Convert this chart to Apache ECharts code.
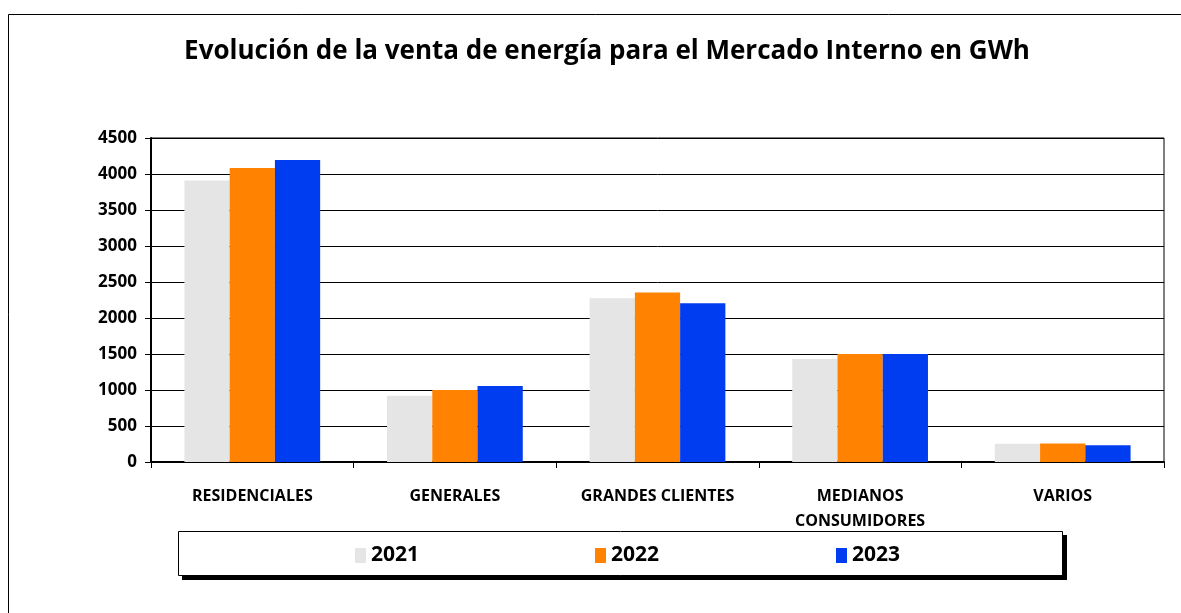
<!DOCTYPE html>
<html>
<head>
<meta charset="utf-8">
<script src="https://cdn.jsdelivr.net/npm/echarts@6/dist/echarts.min.js"></script>
<style>
  html, body { margin: 0; padding: 0; background: #fff; }
  #chart { width: 1181px; height: 613px; }
</style>
</head>
<body>
<div id="chart"></div>
<script>
// data
const categories = ['RESIDENCIALES', 'GENERALES', 'GRANDES CLIENTES', 'MEDIANOS\nCONSUMIDORES', 'VARIOS'];
const years = ['2021', '2022', '2023'];
const values2021 = [3910, 920, 2275, 1430, 255];
const values2022 = [4085, 1000, 2355, 1500, 258];
const values2023 = [4195, 1055, 2205, 1500, 232];
const yTicks = [0, 500, 1000, 1500, 2000, 2500, 3000, 3500, 4000, 4500];

const colors = ['#e5e5e5', '#ff8300', '#003cf0'];
const font = '"Open Sans", "Noto Sans", sans-serif';

const chart = echarts.init(document.getElementById('chart'));

const seriesData = [values2021, values2022, values2023];
// x position of each legend entry inside the legend box
const legendLeft = [350, 590, 831];

chart.setOption({
  animation: false,
  backgroundColor: '#fff',
  title: {
    text: 'Evolución de la venta de energía para el Mercado Interno en GWh',
    left: 602,
    textAlign: 'center',
    top: 34,
    textStyle: { fontFamily: font, fontWeight: 'bold', fontSize: 26, color: '#000' }
  },
  // outer frame and the legend box with its shadow
  graphic: [
    { type: 'rect', shape: { x: 8.5, y: 14.5, width: 1200, height: 700 }, style: { fill: 'none', stroke: '#000', lineWidth: 1 }, silent: true },
    { type: 'rect', shape: { x: 182, y: 535, width: 885, height: 45 }, style: { fill: '#000' }, silent: true },
    { type: 'rect', shape: { x: 178.5, y: 531.5, width: 884, height: 44 }, style: { fill: '#fff', stroke: '#000', lineWidth: 1 }, silent: true }
  ],
  legend: years.map((y, i) => ({
    data: [y],
    left: legendLeft[i],
    top: 540,
    itemWidth: 11,
    itemHeight: 15,
    itemGap: 6,
    icon: 'rect',
    textStyle: { fontFamily: font, fontWeight: 'bold', fontSize: 21, color: '#000' },
    z: 10
  })),
  grid: {
    left: 151, right: 17, top: 138, bottom: 151,
    show: true, borderColor: '#000', borderWidth: 1, containLabel: false
  },
  xAxis: {
    type: 'category',
    data: categories,
    axisLine: { lineStyle: { color: '#000', width: 2 } },
    axisTick: { show: true, length: 6, lineStyle: { color: '#000' } },
    axisLabel: { fontFamily: font, fontWeight: 'bold', fontSize: 16, color: '#000', margin: 22, lineHeight: 25, interval: 0 }
  },
  yAxis: {
    type: 'value',
    min: yTicks[0],
    max: yTicks[yTicks.length - 1],
    interval: 500,
    axisLine: { show: true, lineStyle: { color: '#000', width: 2 } },
    axisTick: { show: true, length: 6, lineStyle: { color: '#000' } },
    axisLabel: { fontFamily: font, fontWeight: 'bold', fontSize: 17, color: '#000', margin: 14, formatter: (v) => String(v) },
    splitLine: { lineStyle: { color: '#000', width: 1 } }
  },
  series: years.map((y, i) => ({
    name: y,
    type: 'bar',
    data: seriesData[i],
    barGap: '0%',
    barCategoryGap: '33%',
    itemStyle: { color: colors[i] }
  }))
});
</script>
</body>
</html>
